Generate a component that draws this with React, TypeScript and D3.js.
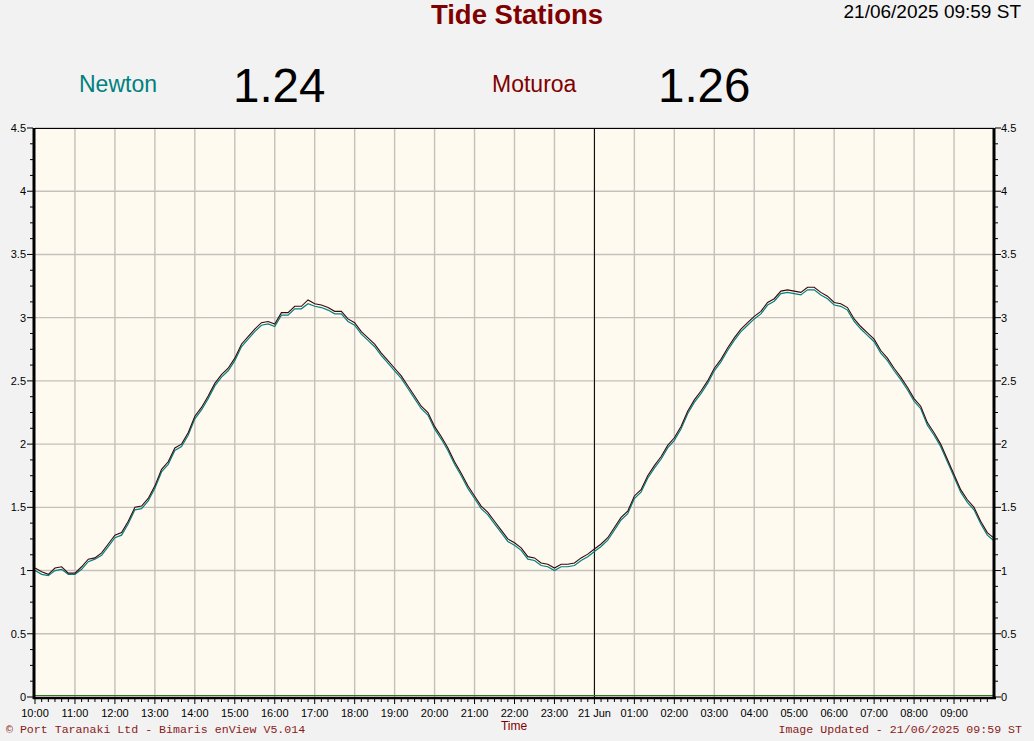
import React from "react";
import * as d3 from "d3";

// readings every 10 minutes from 20 Jun 10:00, last one at 21 Jun 09:59
const moturoa: number[] = [
  1.02, 0.99, 0.97, 1.02, 1.03, 0.98,
  0.98, 1.03, 1.09, 1.10, 1.14, 1.21,
  1.28, 1.30, 1.39, 1.50, 1.51, 1.57,
  1.67, 1.80, 1.86, 1.97, 2.00, 2.09,
  2.22, 2.29, 2.38, 2.48, 2.55, 2.60,
  2.68, 2.79, 2.85, 2.91, 2.96, 2.97,
  2.95, 3.04, 3.04, 3.09, 3.09, 3.14,
  3.11, 3.10, 3.08, 3.05, 3.05, 2.99,
  2.96, 2.89, 2.84, 2.79, 2.72, 2.66,
  2.60, 2.54, 2.46, 2.38, 2.30, 2.25,
  2.14, 2.06, 1.97, 1.86, 1.77, 1.67,
  1.59, 1.51, 1.46, 1.39, 1.32, 1.25,
  1.22, 1.18, 1.11, 1.10, 1.06, 1.05,
  1.02, 1.05, 1.05, 1.06, 1.10, 1.13,
  1.17, 1.21, 1.26, 1.34, 1.42, 1.47,
  1.59, 1.64, 1.75, 1.83, 1.90, 1.99,
  2.05, 2.14, 2.26, 2.35, 2.42, 2.50,
  2.60, 2.67, 2.76, 2.84, 2.91, 2.96,
  3.01, 3.05, 3.12, 3.15, 3.21, 3.22,
  3.21, 3.20, 3.24, 3.24, 3.20, 3.17,
  3.12, 3.11, 3.08, 2.99, 2.93, 2.88,
  2.83, 2.74, 2.68, 2.60, 2.53, 2.45,
  2.36, 2.30, 2.17, 2.09, 2.00, 1.88,
  1.76, 1.64, 1.56, 1.50, 1.39, 1.30,
  1.26,
];

const newton: number[] = [
  1.00, 0.97, 0.96, 1.00, 1.01, 0.97,
  0.97, 1.01, 1.07, 1.09, 1.12, 1.19,
  1.26, 1.28, 1.37, 1.48, 1.49, 1.55,
  1.65, 1.78, 1.84, 1.95, 1.98, 2.07,
  2.20, 2.27, 2.36, 2.46, 2.53, 2.58,
  2.66, 2.77, 2.83, 2.89, 2.94, 2.95,
  2.93, 3.02, 3.02, 3.07, 3.07, 3.11,
  3.09, 3.08, 3.06, 3.03, 3.03, 2.97,
  2.94, 2.87, 2.82, 2.77, 2.70, 2.64,
  2.58, 2.52, 2.44, 2.36, 2.28, 2.23,
  2.12, 2.04, 1.95, 1.84, 1.75, 1.65,
  1.57, 1.49, 1.44, 1.37, 1.30, 1.23,
  1.20, 1.16, 1.09, 1.08, 1.04, 1.03,
  1.00, 1.03, 1.03, 1.04, 1.08, 1.11,
  1.15, 1.19, 1.24, 1.32, 1.40, 1.45,
  1.57, 1.62, 1.73, 1.81, 1.88, 1.97,
  2.03, 2.12, 2.24, 2.33, 2.40, 2.48,
  2.58, 2.65, 2.74, 2.82, 2.89, 2.94,
  2.99, 3.03, 3.10, 3.13, 3.19, 3.20,
  3.19, 3.18, 3.22, 3.22, 3.18, 3.15,
  3.10, 3.09, 3.06, 2.97, 2.91, 2.86,
  2.81, 2.72, 2.66, 2.58, 2.51, 2.43,
  2.34, 2.28, 2.15, 2.07, 1.98, 1.86,
  1.74, 1.62, 1.54, 1.48, 1.37, 1.28,
  1.24,
];

const yTicks = [0, 0.5, 1, 1.5, 2, 2.5, 3, 3.5, 4, 4.5];
const stationNames = ["Newton", "Moturoa"];
const currentValues = ["1.24", "1.26"];
const stampText = "21/06/2025 09:59 ST";

const W = 1034;
const H = 741;
const plot = { left: 35, right: 994, top: 128, bottom: 697 };

const FONT = "'Liberation Sans', Arial, sans-serif";
const MONO = "'Liberation Mono', 'Courier New', monospace";
const RED = "#800000";
const TEAL = "#008080";

const start = new Date(2025, 5, 20, 10, 0);
const end = new Date(2025, 5, 21, 10, 0);

const timeAt = (i: number) =>
  d3.timeMinute.offset(start, Math.min(i * 10, 24 * 60 - 1));

export default function App() {
  const x = d3.scaleTime().domain([start, end]).range([plot.left, plot.right]);
  const y = d3.scaleLinear().domain([0, 4.5]).range([plot.bottom, plot.top]);

  const line = d3
    .line<number>()
    .x((_, i) => x(timeAt(i)))
    .y((d) => y(d))
    .curve(d3.curveLinear);

  const hours = d3.timeHour.range(start, end);
  const minors = d3.timeMinute.every(10)!.range(start, end);
  const yMinor = d3.range(0, 4.5001, 0.125);
  const midnight = new Date(2025, 5, 21, 0, 0);

  const fmt = (d: Date) =>
    d.getHours() === 0 ? d3.timeFormat("%d %b")(d) : d3.timeFormat("%H:%M")(d);

  return (
    <svg
      width={W}
      height={H}
      style={{ position: "absolute", left: 0, top: 0, display: "block" }}
    >
      <rect width={W} height={H} fill="#f2f2f2" />

      {/* header */}
      <text x={517} y={24} textAnchor="middle" fontFamily={FONT} fontWeight="bold" fontSize={27.5} fill={RED}>
        Tide Stations
      </text>
      <text x={1021} y={18} textAnchor="end" fontFamily={FONT} fontSize={19} fill="#000">
        {stampText}
      </text>
      <text x={79} y={92} fontFamily={FONT} fontSize={23} fill={TEAL}>{stationNames[0]}</text>
      <text x={233} y={102} fontFamily={FONT} fontSize={47.5} fill="#000">{currentValues[0]}</text>
      <text x={492} y={92} fontFamily={FONT} fontSize={23} fill={RED}>{stationNames[1]}</text>
      <text x={658} y={102} fontFamily={FONT} fontSize={47.5} fill="#000">{currentValues[1]}</text>

      {/* plot area */}
      <rect
        x={plot.left}
        y={plot.top}
        width={plot.right - plot.left}
        height={plot.bottom - plot.top}
        fill="#fffaf0"
      />

      {/* grid */}
      <g stroke="#c4c0bb" strokeWidth={1.4}>
        {hours.slice(1).map((h, i) => (
          <line key={i} x1={x(h)} x2={x(h)} y1={plot.top} y2={plot.bottom} />
        ))}
        {yTicks.slice(1).map((v, i) => (
          <line key={i} x1={plot.left} x2={plot.right} y1={y(v)} y2={y(v)} />
        ))}
      </g>
      <line x1={x(midnight)} x2={x(midnight)} y1={plot.top} y2={plot.bottom} stroke="#000" strokeWidth={1} />

      {/* series */}
      <path d={line(newton) || ""} fill="none" stroke={TEAL} strokeWidth={1.2} />
      <path d={line(moturoa) || ""} fill="none" stroke="#3a0808" strokeWidth={1.1} />
      <line x1={plot.left} x2={plot.right} y1={y(0) - 1.5} y2={y(0) - 1.5} stroke="#2e7d1e" strokeWidth={1.2} />

      {/* frame */}
      <line x1={plot.left} x2={plot.right} y1={plot.top + 0.5} y2={plot.top + 0.5} stroke="#000" strokeWidth={1} />
      <line x1={plot.left - 2} x2={plot.right + 2} y1={plot.bottom + 1} y2={plot.bottom + 1} stroke="#000" strokeWidth={2.5} />
      <line x1={plot.left - 1} x2={plot.left - 1} y1={plot.top} y2={plot.bottom + 2} stroke="#000" strokeWidth={3} />
      <line x1={plot.right} x2={plot.right} y1={plot.top} y2={plot.bottom + 2} stroke="#000" strokeWidth={3} />

      {/* y axes */}
      <g stroke="#000" strokeWidth={1}>
        {yMinor.map((v, i) => {
          const major = Math.abs(v * 2 - Math.round(v * 2)) < 1e-6;
          const len = major ? 6 : 3;
          return (
            <g key={i}>
              <line x1={plot.left - 2 - len} x2={plot.left - 2} y1={y(v)} y2={y(v)} />
              <line x1={plot.right + 1} x2={plot.right + 1 + len} y1={y(v)} y2={y(v)} />
            </g>
          );
        })}
      </g>
      <g fontFamily={FONT} fontSize={11} fill="#000">
        {yTicks.map((v, i) => (
          <g key={i}>
            <text x={26} y={y(v) + 4} textAnchor="end">{d3.format("")(v)}</text>
            <text x={1001} y={y(v) + 4}>{d3.format("")(v)}</text>
          </g>
        ))}
      </g>

      {/* x axis */}
      <g stroke="#000" strokeWidth={1}>
        {minors.map((m, i) => {
          const major = m.getMinutes() === 0;
          return (
            <line key={i} x1={x(m)} x2={x(m)} y1={plot.bottom + 2} y2={plot.bottom + (major ? 7 : 5)} />
          );
        })}
      </g>
      <g fontFamily={FONT} fontSize={11} fill="#000" textAnchor="middle">
        {hours.map((h, i) => (
          <text key={i} x={x(h)} y={717}>{fmt(h)}</text>
        ))}
      </g>
      <text x={514} y={730} textAnchor="middle" fontFamily={FONT} fontSize={12} fill={RED}>
        Time
      </text>

      {/* footer */}
      <text x={6} y={733} fontFamily={MONO} fontSize={11.6} fill="#8b1a1a">
        © Port Taranaki Ltd - Bimaris enView V5.014
      </text>
      <text x={1022} y={733} textAnchor="end" fontFamily={MONO} fontSize={11.6} fill="#8b1a1a">
        Image Updated - {stampText}
      </text>
    </svg>
  );
}
